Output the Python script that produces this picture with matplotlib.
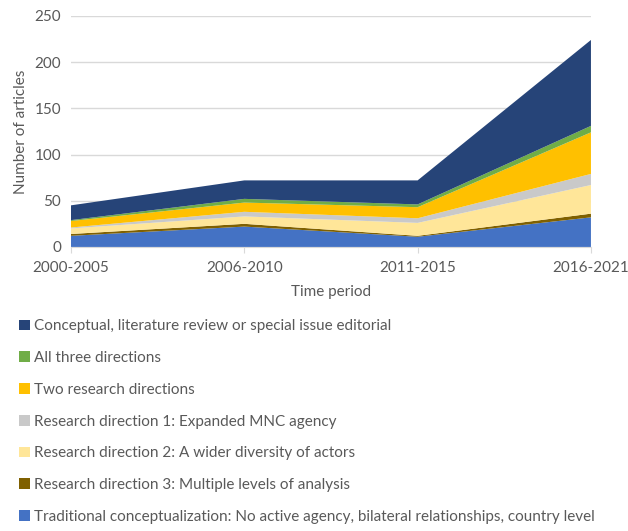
import matplotlib
matplotlib.use("Agg")
import matplotlib.pyplot as plt
from matplotlib.patches import Patch

plt.rcParams['font.family'] = ['Lato', 'DejaVu Sans']

periods = ['2000-2005', '2006-2010', '2011-2015', '2016-2021']

# stacked bottom -> top
traditional = [12, 22, 11, 32]
direction3 = [2, 3, 1, 4]
direction2 = [6, 8, 14, 31]
direction1 = [1, 5, 5, 12]
two_dirs = [7, 10, 12, 45]
all_three = [1, 4, 3, 7]
conceptual = [16, 20, 26, 93]

labels = [
    'Traditional conceptualization: No active agency, bilateral relationships, country level',
    'Research direction 3: Multiple levels of analysis',
    'Research direction 2: A wider diversity of actors',
    'Research direction 1: Expanded MNC agency',
    'Two research directions',
    'All three directions',
    'Conceptual, literature review or special issue editorial',
]
colours = ['#4472C4', '#7F6000', '#FFE699', '#C9C9C9', '#FFC000', '#70AD47', '#264478']

text_col = '#595959'

fig = plt.figure(figsize=(6.28, 5.31), dpi=100)
ax = fig.add_axes([0.113, 0.535, 0.828, 0.435])

x = list(range(len(periods)))
ax.stackplot(x, traditional, direction3, direction2, direction1, two_dirs,
             all_three, conceptual, colors=colours, linewidth=0, zorder=3)

ax.set_xlim(0, 3)
ax.set_ylim(0, 250)
ax.set_yticks([0, 50, 100, 150, 200, 250])
ax.set_xticks(x)
ax.set_xticklabels(periods)
ax.grid(axis='y', color='#D9D9D9', linewidth=1, zorder=0)
for s in ['top', 'right', 'left']:
    ax.spines[s].set_visible(False)
ax.spines['bottom'].set_color('#D9D9D9')
ax.tick_params(axis='y', length=0, labelsize=11, colors=text_col, pad=7)
ax.tick_params(axis='x', length=4, color='#D9D9D9', labelsize=11, colors=text_col, pad=6)
ax.set_xlabel('Time period', fontsize=11, color=text_col, labelpad=7)
ax.set_ylabel('Number of articles', fontsize=11, color=text_col, labelpad=5)

handles = [Patch(facecolor=c, edgecolor='none') for c in colours][::-1]
fig.legend(handles, labels[::-1], loc='upper left', bbox_to_anchor=(0.018, 0.413),
           frameon=False, fontsize=11, labelcolor=text_col,
           handlelength=0.7, handleheight=0.7, handletextpad=0.3,
           labelspacing=1.16, borderpad=0)

fig.savefig('out.png', dpi=100)
